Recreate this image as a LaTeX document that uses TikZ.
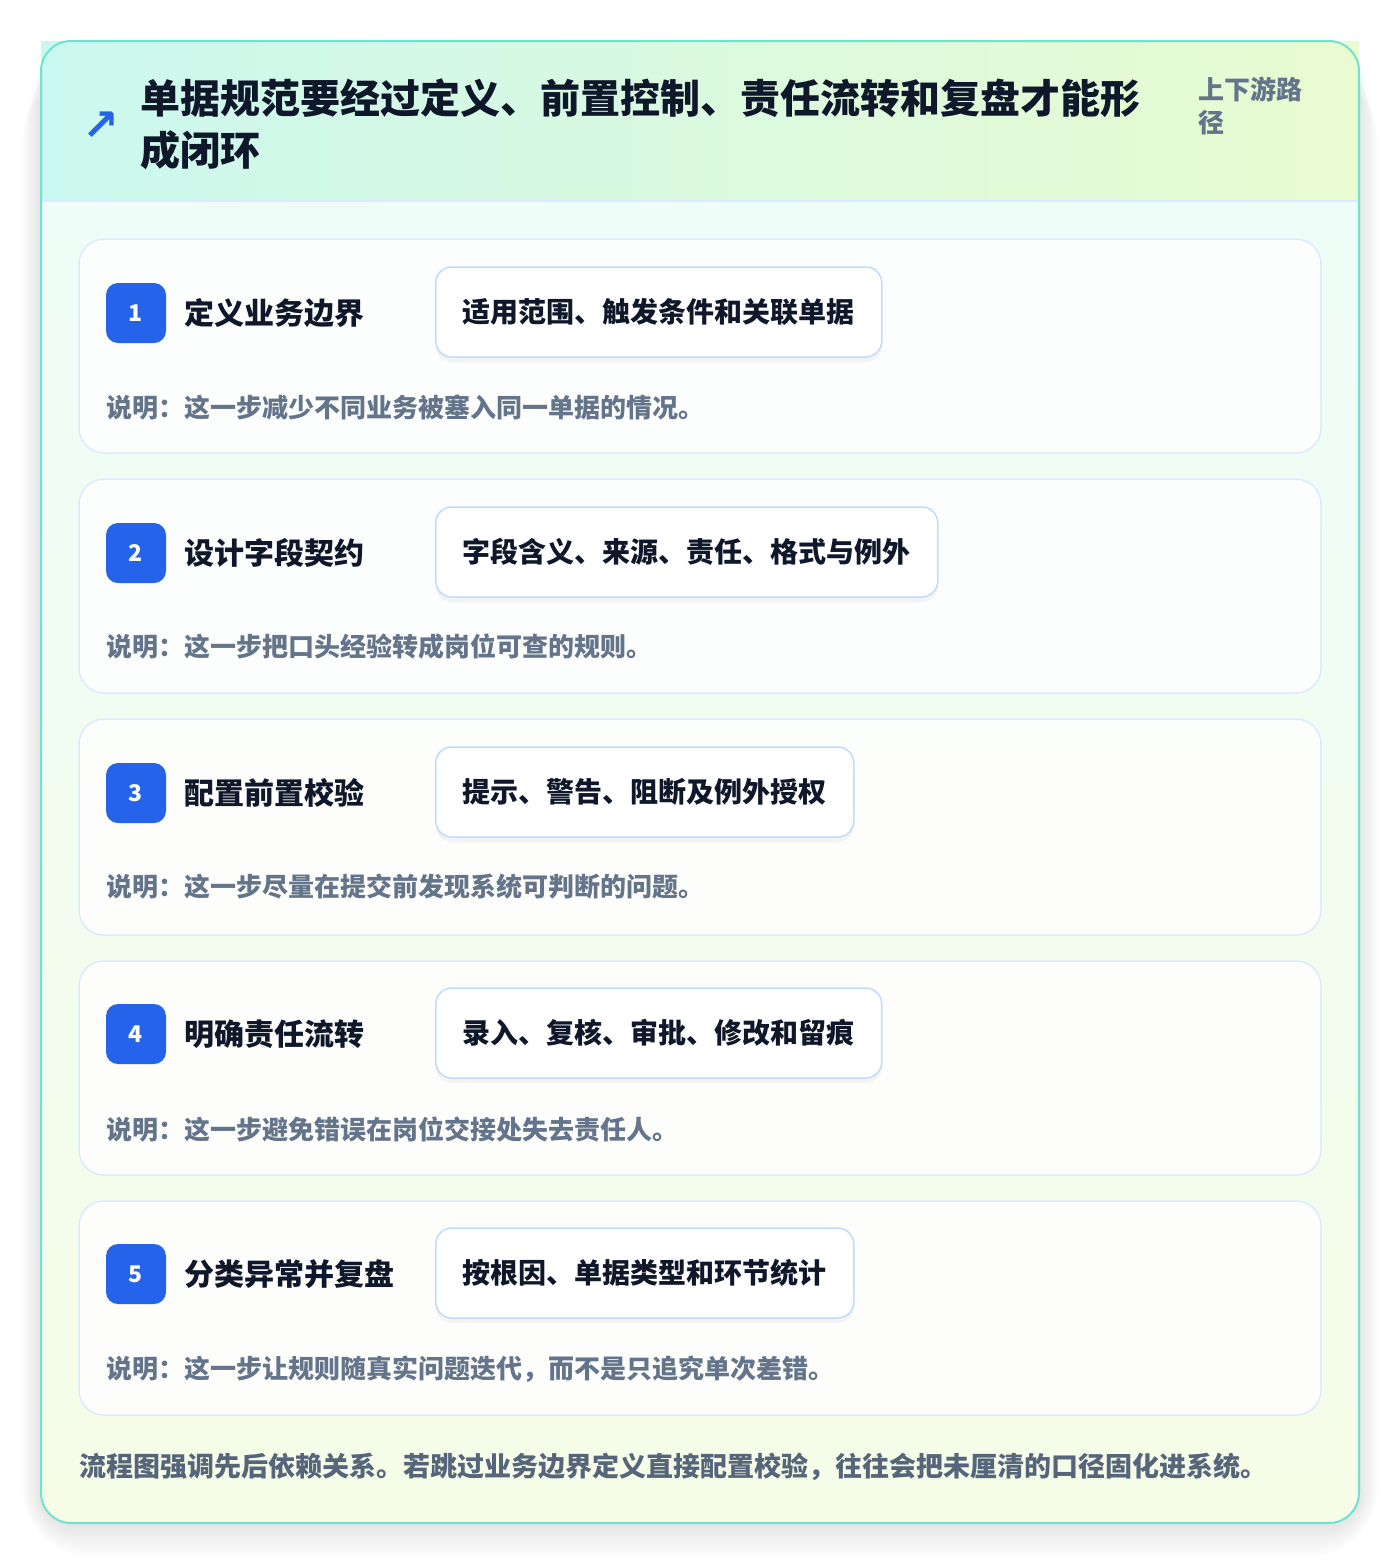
\documentclass[tikz,border=0pt]{standalone}
\usepackage{fontspec}
\setmainfont{Noto Sans CJK SC}
\newfontfamily\symb{DejaVu Sans}
\usetikzlibrary{positioning}
\definecolor{ink}{HTML}{0F172A}
\definecolor{muted}{HTML}{64748B}
\definecolor{footgray}{HTML}{56657A}
\definecolor{badgeblue}{HTML}{2563EB}
\definecolor{cardline}{HTML}{DBEAFE}
\definecolor{tagline}{HTML}{BFDBFE}
\definecolor{frameteal}{HTML}{6FE3D2}
\definecolor{headleft}{HTML}{CBF8EE}
\definecolor{headright}{HTML}{E9FBD0}
\definecolor{bodytop}{HTML}{EFFDF8}
\definecolor{bodybottom}{HTML}{F5FDE7}
\begin{document}
\begin{tikzpicture}[x=1pt, y=-1pt, line cap=round, line join=round,
    card/.style={draw=cardline, line width=1.5pt, fill=white, fill opacity=0.85, rounded corners=25pt},
    badge/.style={fill=badgeblue, rounded corners=12pt, minimum width=60pt, minimum height=60pt,
      inner sep=0pt, text=white, font=\bfseries\fontsize{23}{23}\selectfont},
    steptitle/.style={anchor=west, inner sep=0pt, text=ink, font=\bfseries\fontsize{30}{30}\selectfont},
    tagbox/.style={anchor=west, draw=tagline, line width=1.5pt, fill=white, rounded corners=16pt,
      minimum height=90pt, inner xsep=27pt, inner ysep=0pt, text=ink,
      font=\bfseries\fontsize{28}{28}\selectfont,
      preaction={fill=black, opacity=0.04, transform canvas={yshift=-5pt}}},
    note/.style={anchor=west, inner sep=0pt, text=muted, font=\bfseries\fontsize{26}{26}\selectfont}]
  \useasboundingbox (0,0) rectangle (1400,1564);
  \fill[white] (0,0) rectangle (1400,1564);
  %--- Frame shadow
  \foreach \s in {2,5,...,38}
    \fill[black, opacity=0.008, rounded corners=30pt+\s pt] (41-\s*0.5,41+\s*0.9) rectangle (1359+\s*0.5,1523+\s*0.9);
  %--- Frame
  \shade[left color=headleft, right color=headright] (41,41) rectangle (1359,201);
  \begin{scope}
    \clip[rounded corners=30pt] (41,41) rectangle (1359,1523);
    \shade[top color=bodytop, bottom color=bodybottom] (41,201) rectangle (1359,1523);
  \end{scope}
  \draw[cardline, line width=1.5pt] (41,201) -- (1359,201);
  \draw[frameteal, line width=2pt, rounded corners=30pt] (41,41) rectangle (1359,1523);
  %--- Header
  \node[text=badgeblue, font=\symb\bfseries\fontsize{44}{44}\selectfont, inner sep=0pt] (icon) at (101,126) {↗};
  \node[anchor=west, inner sep=0pt, text=ink, font=\bfseries\fontsize{40}{40}\selectfont] (title1) at (140,98)
    {单据规范要经过定义、前置控制、责任流转和复盘才能形};
  \node[anchor=west, inner sep=0pt, text=ink, font=\bfseries\fontsize{40}{40}\selectfont] (title2) at (140,150)
    {成闭环};
  \node[anchor=west, inner sep=0pt, text=muted, font=\bfseries\fontsize{26}{26}\selectfont] (side1) at (1198,89) {上下游路};
  \node[anchor=west, inner sep=0pt, text=muted, font=\bfseries\fontsize{26}{26}\selectfont] (side2) at (1198,123) {径};
  %--- Step 1
  \draw[card] (79,239) rectangle (1321,453);
  \node[badge] (b1) at (136,313) {1};
  \node[steptitle] (s1) at (184,313) {定义业务边界};
  \node[tagbox] (t1) at (435,312) {适用范围、触发条件和关联单据};
  \node[note] (n1) at (106,407) {说明：这一步减少不同业务被塞入同一单据的情况。};
  %--- Step 2
  \draw[card] (79,479) rectangle (1321,693);
  \node[badge] (b2) at (136,553) {2};
  \node[steptitle] (s2) at (184,553) {设计字段契约};
  \node[tagbox] (t2) at (435,552) {字段含义、来源、责任、格式与例外};
  \node[note] (n2) at (106,647) {说明：这一步把口头经验转成岗位可查的规则。};
  %--- Step 3
  \draw[card] (79,719) rectangle (1321,935);
  \node[badge] (b3) at (136,793) {3};
  \node[steptitle] (s3) at (184,793) {配置前置校验};
  \node[tagbox] (t3) at (435,792) {提示、警告、阻断及例外授权};
  \node[note] (n3) at (106,887) {说明：这一步尽量在提交前发现系统可判断的问题。};
  %--- Step 4
  \draw[card] (79,961) rectangle (1321,1175);
  \node[badge] (b4) at (136,1034) {4};
  \node[steptitle] (s4) at (184,1034) {明确责任流转};
  \node[tagbox] (t4) at (435,1033) {录入、复核、审批、修改和留痕};
  \node[note] (n4) at (106,1129) {说明：这一步避免错误在岗位交接处失去责任人。};
  %--- Step 5
  \draw[card] (79,1201) rectangle (1321,1415);
  \node[badge] (b5) at (136,1274) {5};
  \node[steptitle] (s5) at (184,1274) {分类异常并复盘};
  \node[tagbox] (t5) at (435,1273) {按根因、单据类型和环节统计};
  \node[note] (n5) at (106,1369) {说明：这一步让规则随真实问题迭代，而不是只追究单次差错。};
  %--- Footer
  \node[anchor=west, inner sep=0pt, text=footgray, font=\bfseries\fontsize{27}{27}\selectfont] (foot) at (79,1467)
    {流程图强调先后依赖关系。若跳过业务边界定义直接配置校验，往往会把未厘清的口径固化进系统。};
\end{tikzpicture}
\end{document}
